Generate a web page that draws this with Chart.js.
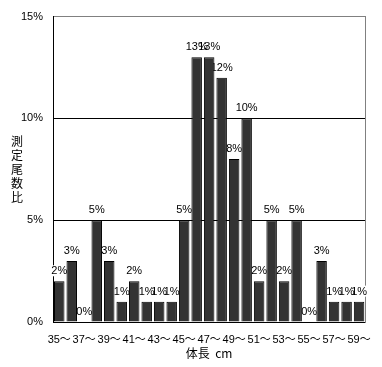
<!DOCTYPE html>
<html>
<head>
<meta charset="utf-8">
<script src="https://cdn.jsdelivr.net/npm/chart.js@4/dist/chart.umd.min.js"></script>
<style>
  html, body { margin: 0; padding: 0; background: #fff; }
  #wrap { width: 382px; height: 367px; position: relative; }
</style>
</head>
<body>
<div id="wrap"><canvas id="c" width="382" height="367"></canvas></div>
<script>
// ---- data ----
const categories = ['35～','36～','37～','38～','39～','40～','41～','42～','43～','44～','45～','46～','47～','48～','49～','50～','51～','52～','53～','54～','55～','56～','57～','58～','59～'];
const percentValues = [2, 3, 0, 5, 3, 1, 2, 1, 1, 1, 5, 13, 13, 12, 8, 10, 2, 5, 2, 5, 0, 3, 1, 1, 1];
const yTicks = [0, 5, 10, 15];
const yTitle = '測定尾数比';
const xTitle = '体長  cm';

const FONT = '"Liberation Sans Narrow", "Liberation Sans", "Noto Sans CJK JP", sans-serif';

const valueLabels = {
  id: 'valueLabels',
  beforeDatasetsDraw(chart) {
    const ctx = chart.ctx;
    const meta = chart.getDatasetMeta(0);
    ctx.save();
    ctx.font = '11px ' + FONT;
    ctx.textAlign = 'center';
    ctx.textBaseline = 'alphabetic';
    // white label backgrounds first
    meta.data.forEach((bar, i) => {
      const txt = percentValues[i] + '%';
      const w = ctx.measureText(txt).width;
      const y = bar.y - 7;
      ctx.fillStyle = '#ffffff';
      ctx.fillRect(bar.x - w / 2 - 1, y - 9, w + 2, 11);
    });
    // then the label texts
    ctx.fillStyle = '#000000';
    for (let i = meta.data.length - 1; i >= 0; i--) {
      const bar = meta.data[i];
      ctx.fillText(percentValues[i] + '%', bar.x, bar.y - 7);
    }
    ctx.restore();
  }
};

const verticalTitle = {
  id: 'verticalTitle',
  afterDraw(chart) {
    const ctx = chart.ctx;
    const a = chart.chartArea;
    const chars = Array.from(yTitle);
    const step = 14;
    const cy = (a.top + a.bottom) / 2;
    const startY = cy - (chars.length - 1) * step / 2;
    ctx.save();
    ctx.font = '12px "Noto Sans CJK JP", sans-serif';
    ctx.fillStyle = '#000';
    ctx.textAlign = 'center';
    ctx.textBaseline = 'middle';
    chars.forEach((ch, i) => ctx.fillText(ch, 17, startY + i * step));
    ctx.restore();
  }
};

new Chart(document.getElementById('c'), {
  type: 'bar',
  data: {
    labels: categories,
    datasets: [{
      data: percentValues,
      backgroundColor: '#333333',
      borderColor: '#000000',
      borderWidth: 1,
      barPercentage: 0.84,
      categoryPercentage: 1.0
    }]
  },
  options: {
    responsive: false,
    animation: false,
    devicePixelRatio: 1,
    layout: { padding: { left: 0, right: 15, top: 15, bottom: 0 } },
    plugins: { legend: { display: false }, tooltip: { enabled: false } },
    scales: {
      x: {
        grid: { display: false, drawTicks: false },
        border: { display: true, color: '#000000', width: 1 },
        ticks: {
          autoSkip: false, maxRotation: 0, minRotation: 0, padding: 11,
          color: '#000', font: { family: FONT, size: 11 },
          callback: (v, i) => (i % 2 === 0 ? categories[i] : '')
        },
        title: {
          display: true, text: xTitle, color: '#000',
          font: { family: '"Noto Sans CJK JP", sans-serif', size: 12 },
          padding: { top: 0, bottom: 6 }
        },
        afterFit: (s) => { s.height = 45; }
      },
      y: {
        min: 0, max: 15,
        afterBuildTicks: (s) => { s.ticks = yTicks.map(v => ({ value: v })); },
        grid: {
          drawTicks: false,
          color: (c) => (c.tick && c.tick.value === 15 ? '#808080' : '#000000'),
          lineWidth: 1
        },
        border: { display: true, color: '#000000', width: 1 },
        ticks: {
          padding: 10, color: '#000', font: { family: FONT, size: 11 },
          callback: (v) => v + '%'
        },
        afterFit: (s) => { s.width = 53; }
      },
      y2: {
        position: 'right', min: 0, max: 15,
        grid: { drawOnChartArea: false, drawTicks: false },
        border: { display: true, color: '#808080', width: 1 },
        ticks: { display: false },
        afterFit: (s) => { s.width = 0; }
      }
    }
  },
  plugins: [valueLabels, verticalTitle]
});
</script>
</body>
</html>
